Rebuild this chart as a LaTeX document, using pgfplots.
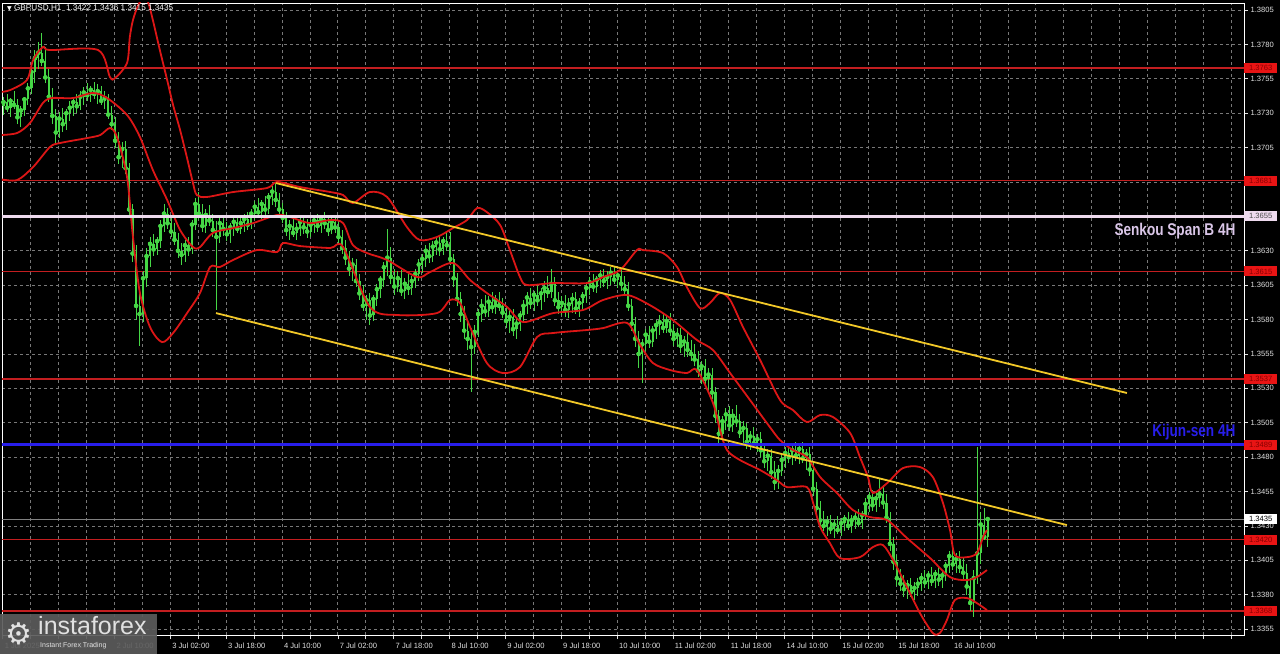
\documentclass[border=0pt]{standalone}
\usepackage{fontspec}
\setmainfont{Liberation Sans}
\newfontfamily\dejavu{DejaVu Sans}
\usepackage{graphicx}
\usepackage{pgfplots}
\usepackage{pgfplotstable}
\pgfplotsset{compat=1.18}

\definecolor{candle}{RGB}{70,215,70}
\definecolor{band}{RGB}{220,22,22}
\definecolor{level}{RGB}{195,30,32}
\definecolor{chan}{RGB}{242,200,40}
\definecolor{kijun}{RGB}{40,30,235}
\definecolor{senkou}{RGB}{238,218,238}
\definecolor{gridc}{RGB}{120,120,120}
\definecolor{boxred}{RGB}{232,20,20}
\definecolor{boxtext}{RGB}{135,0,0}
\definecolor{senkoutext}{RGB}{218,198,232}
\definecolor{lbl}{RGB}{225,225,225}

\newcommand\tk{\fontsize{7.6}{9}\selectfont}

% hourly GBPUSD bars: index, open, high, low, close
\pgfplotstableread{
i o h l c
0 1.3732 1.3738 1.3724 1.3735
1 1.3735 1.3742 1.3729 1.3738
2 1.3738 1.3744 1.3731 1.3734
3 1.3734 1.3741 1.3727 1.3739
4 1.3739 1.3746 1.3733 1.3736
5 1.3736 1.3740 1.3722 1.3727
6 1.3727 1.3735 1.3720 1.3732
7 1.3732 1.3742 1.3728 1.3740
8 1.3740 1.3752 1.3736 1.3748
9 1.3748 1.3765 1.3744 1.3760
10 1.3760 1.3776 1.3752 1.3770
11 1.3770 1.3782 1.3762 1.3774
12 1.3774 1.3788 1.3764 1.3768
13 1.3768 1.3778 1.3752 1.3756
14 1.3756 1.3762 1.3738 1.3742
15 1.3742 1.3748 1.3722 1.3728
16 1.3728 1.3733 1.3708 1.3716
17 1.3716 1.3731 1.3712 1.3726
18 1.3726 1.3734 1.3716 1.3722
19 1.3722 1.3733 1.3718 1.3730
20 1.3730 1.3739 1.3724 1.3734
21 1.3734 1.3742 1.3728 1.3738
22 1.3738 1.3744 1.3730 1.3735
23 1.3735 1.3746 1.3732 1.3742
24 1.3742 1.3749 1.3736 1.3745
25 1.3745 1.3752 1.3739 1.3743
26 1.3743 1.3750 1.3738 1.3747
27 1.3747 1.3753 1.3740 1.3744
28 1.3744 1.3751 1.3737 1.3746
29 1.3746 1.3750 1.3736 1.3739
30 1.3739 1.3746 1.3733 1.3741
31 1.3741 1.3744 1.3726 1.3729
32 1.3729 1.3735 1.3718 1.3722
33 1.3722 1.3727 1.3705 1.3710
34 1.3710 1.3716 1.3693 1.3698
35 1.3698 1.3709 1.3690 1.3704
36 1.3704 1.3710 1.3686 1.3690
37 1.3690 1.3694 1.3655 1.3660
38 1.3660 1.3664 1.3622 1.3628
39 1.3628 1.3634 1.3580 1.3590
40 1.3590 1.3602 1.3561 1.3584
41 1.3584 1.3615 1.3578 1.3610
42 1.3610 1.3632 1.3604 1.3626
43 1.3626 1.3640 1.3618 1.3635
44 1.3635 1.3642 1.3626 1.3631
45 1.3631 1.3640 1.3627 1.3637
46 1.3637 1.3652 1.3632 1.3648
47 1.3648 1.3664 1.3644 1.3657
48 1.3657 1.3661 1.3646 1.3650
49 1.3650 1.3656 1.3640 1.3644
50 1.3644 1.3650 1.3634 1.3638
51 1.3638 1.3643 1.3625 1.3630
52 1.3630 1.3636 1.3620 1.3627
53 1.3627 1.3638 1.3622 1.3634
54 1.3634 1.3640 1.3626 1.3631
55 1.3631 1.3652 1.3628 1.3649
56 1.3649 1.3668 1.3645 1.3664
57 1.3664 1.3673 1.3652 1.3657
58 1.3657 1.3664 1.3644 1.3648
59 1.3648 1.3660 1.3643 1.3656
60 1.3656 1.3663 1.3648 1.3652
61 1.3652 1.3657 1.3640 1.3645
62 1.3645 1.3652 1.3587 1.3640
63 1.3640 1.3655 1.3636 1.3650
64 1.3650 1.3656 1.3641 1.3646
65 1.3646 1.3651 1.3637 1.3642
66 1.3642 1.3650 1.3636 1.3647
67 1.3647 1.3655 1.3641 1.3651
68 1.3651 1.3656 1.3643 1.3646
69 1.3646 1.3654 1.3642 1.3650
70 1.3650 1.3657 1.3644 1.3653
71 1.3653 1.3658 1.3645 1.3649
72 1.3649 1.3660 1.3646 1.3657
73 1.3657 1.3666 1.3652 1.3662
74 1.3662 1.3668 1.3654 1.3658
75 1.3658 1.3667 1.3653 1.3664
76 1.3664 1.3670 1.3656 1.3660
77 1.3660 1.3672 1.3657 1.3669
78 1.3669 1.3677 1.3663 1.3673
79 1.3673 1.3680 1.3662 1.3667
80 1.3667 1.3672 1.3654 1.3660
81 1.3660 1.3665 1.3650 1.3654
82 1.3654 1.3658 1.3641 1.3645
83 1.3645 1.3652 1.3638 1.3648
84 1.3648 1.3654 1.3640 1.3643
85 1.3643 1.3650 1.3638 1.3646
86 1.3646 1.3654 1.3641 1.3651
87 1.3651 1.3656 1.3642 1.3647
88 1.3647 1.3653 1.3639 1.3644
89 1.3644 1.3652 1.3640 1.3649
90 1.3649 1.3655 1.3643 1.3652
91 1.3652 1.3657 1.3644 1.3648
92 1.3648 1.3656 1.3643 1.3653
93 1.3653 1.3658 1.3646 1.3650
94 1.3650 1.3655 1.3641 1.3645
95 1.3645 1.3654 1.3642 1.3651
96 1.3651 1.3656 1.3643 1.3647
97 1.3647 1.3652 1.3636 1.3640
98 1.3640 1.3645 1.3628 1.3632
99 1.3632 1.3638 1.3620 1.3625
100 1.3625 1.3630 1.3612 1.3617
101 1.3617 1.3625 1.3608 1.3620
102 1.3620 1.3624 1.3604 1.3608
103 1.3608 1.3613 1.3594 1.3599
104 1.3599 1.3605 1.3586 1.3590
105 1.3590 1.3598 1.3580 1.3594
106 1.3594 1.3599 1.3576 1.3583
107 1.3583 1.3598 1.3579 1.3595
108 1.3595 1.3606 1.3590 1.3602
109 1.3602 1.3612 1.3596 1.3609
110 1.3609 1.3622 1.3604 1.3618
111 1.3618 1.3646 1.3612 1.3625
112 1.3625 1.3633 1.3606 1.3611
113 1.3611 1.3617 1.3598 1.3604
114 1.3604 1.3615 1.3600 1.3610
115 1.3610 1.3616 1.3597 1.3601
116 1.3601 1.3610 1.3595 1.3606
117 1.3606 1.3613 1.3598 1.3603
118 1.3603 1.3612 1.3598 1.3608
119 1.3608 1.3617 1.3603 1.3613
120 1.3613 1.3624 1.3608 1.3620
121 1.3620 1.3628 1.3614 1.3624
122 1.3624 1.3634 1.3618 1.3630
123 1.3630 1.3636 1.3621 1.3626
124 1.3626 1.3637 1.3622 1.3633
125 1.3633 1.3640 1.3627 1.3636
126 1.3636 1.3641 1.3626 1.3631
127 1.3631 1.3640 1.3627 1.3637
128 1.3637 1.3643 1.3630 1.3634
129 1.3634 1.3644 1.3620 1.3624
130 1.3624 1.3628 1.3604 1.3610
131 1.3610 1.3614 1.3590 1.3595
132 1.3595 1.3600 1.3578 1.3584
133 1.3584 1.3590 1.3566 1.3572
134 1.3572 1.3580 1.3558 1.3566
135 1.3566 1.3574 1.3527 1.3560
136 1.3560 1.3576 1.3555 1.3571
137 1.3571 1.3588 1.3567 1.3584
138 1.3584 1.3595 1.3578 1.3590
139 1.3590 1.3598 1.3582 1.3586
140 1.3586 1.3597 1.3582 1.3593
141 1.3593 1.3600 1.3585 1.3589
142 1.3589 1.3598 1.3584 1.3594
143 1.3594 1.3600 1.3586 1.3590
144 1.3590 1.3596 1.3581 1.3585
145 1.3585 1.3590 1.3574 1.3579
146 1.3579 1.3587 1.3570 1.3582
147 1.3582 1.3588 1.3568 1.3573
148 1.3573 1.3581 1.3566 1.3577
149 1.3577 1.3586 1.3572 1.3583
150 1.3583 1.3594 1.3578 1.3590
151 1.3590 1.3600 1.3584 1.3596
152 1.3596 1.3603 1.3588 1.3592
153 1.3592 1.3601 1.3586 1.3598
154 1.3598 1.3606 1.3590 1.3594
155 1.3594 1.3603 1.3587 1.3599
156 1.3599 1.3608 1.3593 1.3603
157 1.3603 1.3612 1.3596 1.3600
158 1.3600 1.3617 1.3596 1.3606
159 1.3606 1.3611 1.3590 1.3594
160 1.3594 1.3600 1.3584 1.3589
161 1.3589 1.3597 1.3583 1.3592
162 1.3592 1.3598 1.3582 1.3587
163 1.3587 1.3596 1.3581 1.3591
164 1.3591 1.3599 1.3585 1.3595
165 1.3595 1.3600 1.3584 1.3588
166 1.3588 1.3596 1.3582 1.3592
167 1.3592 1.3600 1.3588 1.3597
168 1.3597 1.3606 1.3592 1.3603
169 1.3603 1.3611 1.3598 1.3607
170 1.3607 1.3613 1.3600 1.3604
171 1.3604 1.3612 1.3599 1.3609
172 1.3609 1.3616 1.3603 1.3612
173 1.3612 1.3617 1.3604 1.3608
174 1.3608 1.3615 1.3602 1.3611
175 1.3611 1.3618 1.3605 1.3614
176 1.3614 1.3619 1.3606 1.3609
177 1.3609 1.3616 1.3603 1.3612
178 1.3612 1.3617 1.3601 1.3606
179 1.3606 1.3612 1.3598 1.3602
180 1.3602 1.3607 1.3586 1.3590
181 1.3590 1.3595 1.3572 1.3577
182 1.3577 1.3582 1.3560 1.3566
183 1.3566 1.3572 1.3545 1.3555
184 1.3555 1.3566 1.3534 1.3562
185 1.3562 1.3573 1.3557 1.3569
186 1.3569 1.3575 1.3559 1.3564
187 1.3564 1.3575 1.3560 1.3572
188 1.3572 1.3580 1.3566 1.3576
189 1.3576 1.3583 1.3569 1.3578
190 1.3578 1.3584 1.3570 1.3574
191 1.3574 1.3583 1.3570 1.3579
192 1.3579 1.3585 1.3568 1.3572
193 1.3572 1.3577 1.3561 1.3566
194 1.3566 1.3574 1.3560 1.3569
195 1.3569 1.3574 1.3556 1.3561
196 1.3561 1.3568 1.3553 1.3564
197 1.3564 1.3570 1.3553 1.3558
198 1.3558 1.3565 1.3550 1.3555
199 1.3555 1.3562 1.3546 1.3551
200 1.3551 1.3557 1.3538 1.3543
201 1.3543 1.3550 1.3533 1.3546
202 1.3546 1.3551 1.3532 1.3537
203 1.3537 1.3545 1.3528 1.3540
204 1.3540 1.3545 1.3522 1.3527
205 1.3527 1.3531 1.3505 1.3510
206 1.3510 1.3514 1.3490 1.3497
207 1.3497 1.3510 1.3493 1.3506
208 1.3506 1.3516 1.3500 1.3511
209 1.3511 1.3517 1.3499 1.3503
210 1.3503 1.3515 1.3498 1.3510
211 1.3510 1.3518 1.3502 1.3506
212 1.3506 1.3511 1.3494 1.3498
213 1.3498 1.3506 1.3490 1.3501
214 1.3501 1.3505 1.3486 1.3491
215 1.3491 1.3499 1.3485 1.3495
216 1.3495 1.3502 1.3487 1.3490
217 1.3490 1.3497 1.3484 1.3493
218 1.3493 1.3498 1.3480 1.3485
219 1.3485 1.3490 1.3472 1.3477
220 1.3477 1.3486 1.3470 1.3481
221 1.3481 1.3486 1.3464 1.3469
222 1.3469 1.3477 1.3456 1.3462
223 1.3462 1.3474 1.3457 1.3470
224 1.3470 1.3482 1.3466 1.3478
225 1.3478 1.3487 1.3472 1.3483
226 1.3483 1.3490 1.3476 1.3480
227 1.3480 1.3488 1.3474 1.3485
228 1.3485 1.3491 1.3477 1.3481
229 1.3481 1.3489 1.3475 1.3486
230 1.3486 1.3491 1.3476 1.3479
231 1.3479 1.3486 1.3471 1.3482
232 1.3482 1.3487 1.3466 1.3471
233 1.3471 1.3476 1.3452 1.3457
234 1.3457 1.3462 1.3438 1.3443
235 1.3443 1.3448 1.3428 1.3434
236 1.3434 1.3441 1.3426 1.3430
237 1.3430 1.3437 1.3423 1.3433
238 1.3433 1.3438 1.3424 1.3428
239 1.3428 1.3435 1.3421 1.3431
240 1.3431 1.3437 1.3424 1.3427
241 1.3427 1.3436 1.3423 1.3432
242 1.3432 1.3438 1.3426 1.3435
243 1.3435 1.3440 1.3427 1.3430
244 1.3430 1.3438 1.3425 1.3434
245 1.3434 1.3440 1.3428 1.3436
246 1.3436 1.3442 1.3429 1.3432
247 1.3432 1.3441 1.3428 1.3438
248 1.3438 1.3450 1.3434 1.3446
249 1.3446 1.3455 1.3440 1.3451
250 1.3451 1.3456 1.3441 1.3445
251 1.3445 1.3454 1.3440 1.3450
252 1.3450 1.3465 1.3444 1.3453
253 1.3453 1.3460 1.3442 1.3447
254 1.3447 1.3453 1.3432 1.3436
255 1.3436 1.3440 1.3412 1.3417
256 1.3417 1.3422 1.3398 1.3404
257 1.3404 1.3409 1.3386 1.3392
258 1.3392 1.3399 1.3383 1.3388
259 1.3388 1.3394 1.3378 1.3384
260 1.3384 1.3391 1.3377 1.3387
261 1.3387 1.3392 1.3378 1.3382
262 1.3382 1.3389 1.3376 1.3385
263 1.3385 1.3392 1.3379 1.3388
264 1.3388 1.3396 1.3383 1.3392
265 1.3392 1.3398 1.3385 1.3389
266 1.3389 1.3397 1.3384 1.3394
267 1.3394 1.3400 1.3386 1.3390
268 1.3390 1.3398 1.3385 1.3395
269 1.3395 1.3401 1.3386 1.3391
270 1.3391 1.3398 1.3385 1.3394
271 1.3394 1.3404 1.3390 1.3401
272 1.3401 1.3412 1.3396 1.3408
273 1.3408 1.3413 1.3398 1.3402
274 1.3402 1.3410 1.3396 1.3406
275 1.3406 1.3412 1.3396 1.3400
276 1.3400 1.3407 1.3391 1.3396
277 1.3396 1.3402 1.3380 1.3386
278 1.3386 1.3392 1.3368 1.3374
279 1.3374 1.3398 1.3364 1.3392
280 1.3392 1.3487 1.3388 1.3410
281 1.3410 1.3440 1.3402 1.3431
282 1.3431 1.3443 1.3420 1.3422
283 1.3422 1.3436 1.3415 1.3435
}\bars

% Bollinger bands
\pgfplotstableread{
i p
0 1.37454
2.9 1.37468
7.7 1.37541
9.5 1.37687
12.3 1.37781
14.3 1.37759
28.1 1.37759
31.5 1.37563
33.0 1.37556
36.4 1.37665
37.2 1.37854
38.1 1.37977
39.5 1.38079
41.0 1.38137
42.4 1.38108
43.8 1.37977
45.8 1.37759
47.9 1.37541
49.6 1.37359
51.6 1.37178
53.6 1.36974
55.3 1.36792
56.4 1.36705
59.3 1.36691
66.8 1.36727
76.5 1.36756
79.4 1.36800
86.0 1.36763
94.6 1.36727
98.3 1.36705
101.1 1.36647
106.0 1.36727
110.9 1.36691
116.6 1.36472
120.3 1.36378
125.2 1.36400
129.8 1.36465
133.8 1.36523
136.7 1.36610
139.5 1.36581
143.3 1.36487
146.1 1.36305
149.0 1.36109
151.0 1.36051
158.5 1.36065
168.2 1.36065
172.8 1.36109
177.7 1.36160
182.5 1.36305
184.2 1.36305
190.0 1.36283
194.0 1.36182
196.8 1.36036
200.6 1.35883
203.4 1.35920
206.3 1.35993
209.2 1.35942
212.9 1.35745
217.8 1.35506
223.5 1.35215
227.2 1.35142
231.2 1.35055
235.0 1.35106
238.7 1.35091
243.6 1.34975
246.4 1.34800
248.7 1.34655
250.1 1.34539
254.2 1.34611
258.7 1.34720
263.6 1.34728
267.3 1.34655
270.2 1.34466
272.2 1.34270
273.6 1.34088
277.1 1.34073
279.9 1.34102
281.7 1.34219
282.8 1.34270
}\bbup

\pgfplotstableread{
i p
0 1.37141
4.9 1.37156
8.6 1.37229
12.3 1.37374
14.9 1.37410
20.9 1.37410
26.6 1.37447
30.7 1.37410
36.4 1.37287
40.1 1.37127
43.8 1.36887
47.9 1.36669
51.6 1.36451
55.3 1.36327
57.3 1.36327
61.0 1.36429
66.8 1.36465
72.5 1.36501
79.4 1.36560
83.1 1.36545
88.8 1.36501
94.6 1.36523
98.3 1.36501
101.1 1.36342
105.2 1.36283
110.9 1.36233
119.5 1.36109
123.2 1.36145
129.8 1.36211
134.7 1.36087
139.5 1.35993
145.3 1.35891
149.9 1.35782
158.5 1.35847
167.0 1.35869
172.8 1.35942
179.7 1.35978
186.2 1.35905
192.8 1.35796
199.7 1.35651
204.3 1.35578
209.2 1.35411
214.9 1.35215
220.6 1.35018
223.5 1.34924
227.2 1.34851
231.2 1.34800
235.0 1.34655
239.8 1.34539
244.4 1.34415
249.3 1.34364
254.2 1.34342
259.9 1.34211
266.5 1.34066
272.2 1.33928
277.1 1.33906
279.9 1.33928
282.8 1.33979
}\bbmid

\pgfplotstableread{
i p
0 1.36821
4.9 1.36814
9.5 1.36909
14.3 1.37054
17.2 1.37083
24.9 1.37119
28.7 1.37141
31.5 1.37192
33.5 1.37127
36.4 1.36836
38.1 1.36400
40.1 1.35993
43.0 1.35745
46.4 1.35636
49.6 1.35702
53.6 1.35847
57.3 1.35993
60.2 1.36182
63.0 1.36182
66.8 1.36233
73.6 1.36305
79.4 1.36291
81.1 1.36356
86.0 1.36334
94.6 1.36320
98.3 1.36327
106.0 1.35891
113.8 1.35833
125.2 1.35847
128.9 1.35942
131.8 1.35920
134.7 1.35745
139.5 1.35484
144.1 1.35411
149.0 1.35455
153.9 1.35673
158.5 1.35702
168.2 1.35724
172.8 1.35738
179.7 1.35775
183.4 1.35615
187.1 1.35484
192.0 1.35433
196.8 1.35411
199.7 1.35433
204.3 1.35193
206.3 1.34997
208.3 1.34851
212.0 1.34779
217.8 1.34706
222.6 1.34633
225.5 1.34582
231.2 1.34582
233.0 1.34466
235.0 1.34292
237.8 1.34175
240.7 1.34066
246.4 1.34073
250.1 1.34146
253.0 1.34161
255.9 1.34052
259.9 1.33855
263.6 1.33666
267.3 1.33521
269.3 1.33521
271.3 1.33615
273.6 1.33761
277.1 1.33775
279.9 1.33739
282.8 1.33688
}\bblow

\begin{document}
\begin{tikzpicture}
% picture frame: 1280 x 654, axis box from (2,3) to (1244,635) in pixels
\fill[black, use as bounding box] (-2pt,-19pt) rectangle (1278pt,635pt);

\begin{axis}[
    at={(0pt,0pt)}, anchor=south west,
    width=1242pt, height=632pt, scale only axis,
    xmin=0.573, xmax=356.45,
    ymin=1.33507, ymax=1.38101,
    clip mode=individual,
    axis line style={white, line width=0.8pt},
    tick align=outside, major tick length=4pt,
    tick style={lbl, line width=0.6pt},
    xtick pos=left, ytick pos=right, yticklabel pos=right,
    xtick={0.8,8.8,16.8,24.8,32.8,40.8,48.8,56.8,64.8,72.8,80.8,88.8,96.8,104.8,112.8,120.8,128.8,136.8,144.8,152.8,160.8,168.8,176.8,184.8,192.8,200.8,208.8,216.8,224.8,232.8,240.8,248.8,256.8,264.8,272.8,280.8,288.8,296.8,304.8,312.8,320.8,328.8,336.8,344.8,352.8},
    xticklabels={1 Jul 2025,,1 Jul 18:00,,2 Jul 10:00,,3 Jul 02:00,,3 Jul 18:00,,4 Jul 10:00,,7 Jul 02:00,,7 Jul 18:00,,8 Jul 10:00,,9 Jul 02:00,,9 Jul 18:00,,10 Jul 10:00,,11 Jul 02:00,,11 Jul 18:00,,14 Jul 10:00,,15 Jul 02:00,,15 Jul 18:00,,16 Jul 10:00,,,,,,,,,,},
    ytick={1.3355,1.3380,1.3405,1.3430,1.3455,1.3480,1.3505,1.3530,1.3555,1.3580,1.3605,1.3630,1.3655,1.3680,1.3705,1.3730,1.3755,1.3780,1.3805},
    yticklabels={1.3355,1.3380,1.3405,1.3430,1.3455,1.3480,1.3505,1.3530,1.3555,1.3580,1.3605,1.3630,1.3655,1.3680,1.3705,1.3730,1.3755,1.3780,1.3805},
    xticklabel style={anchor=north west, xshift=-1.5pt, font=\tk, text=lbl},
    yticklabel style={anchor=west, xshift=-1pt, font=\tk, text=lbl},
    grid=major,
    major grid style={gridc, dash pattern=on 3pt off 3pt, line width=0.7pt},
]
% support / resistance levels
\addplot[level, line width=1.6pt] coordinates {(0.573,1.3763) (356.45,1.3763)};
\addplot[level, line width=1.6pt] coordinates {(0.573,1.3681) (356.45,1.3681)};
\addplot[level, line width=1.6pt] coordinates {(0.573,1.3615) (356.45,1.3615)};
\addplot[level, line width=1.6pt] coordinates {(0.573,1.3537) (356.45,1.3537)};
\addplot[level, line width=1.6pt] coordinates {(0.573,1.3420) (356.45,1.3420)};
\addplot[level, line width=1.6pt] coordinates {(0.573,1.3368) (356.45,1.3368)};
\addplot[gray, line width=0.8pt] coordinates {(0.573,1.3435) (356.45,1.3435)};

% candles: wicks, then bodies
\addplot[only marks, mark=none, candle,
    error bars/.cd, y dir=both, y explicit, error mark=none,
    error bar style={candle, line width=0.9pt}]
    table[x=i, y=c, y error plus expr=\thisrow{h}-\thisrow{c},
          y error minus expr=\thisrow{c}-\thisrow{l}] {\bars};
\addplot[only marks, mark=none, candle,
    error bars/.cd, y dir=both, y explicit, error mark=none,
    error bar style={candle, line width=2.2pt}]
    table[x=i, y=c, y error plus expr={max(\thisrow{o},\thisrow{c})-\thisrow{c}},
          y error minus expr={\thisrow{c}-min(\thisrow{o},\thisrow{c})}] {\bars};

% Bollinger bands
\addplot[band, line width=1.8pt, smooth] table[x=i, y=p] {\bbup};
\addplot[band, line width=1.8pt, smooth] table[x=i, y=p] {\bbmid};
\addplot[band, line width=1.8pt, smooth] table[x=i, y=p] {\bblow};

% Ichimoku lines
\addplot[senkou, line width=3pt] coordinates {(0.573,1.3655) (356.45,1.3655)};
\addplot[kijun, line width=3pt] coordinates {(0.573,1.3489) (356.45,1.3489)};

% descending channel
\addplot[chan, line width=1.8pt] coordinates {(79.1,1.36792) (322.9,1.35266)};
\addplot[chan, line width=1.8pt] coordinates {(61.9,1.35847) (305.7,1.34306)};

\node[anchor=east, text=senkoutext, font=\bfseries\fontsize{13.6}{15}\selectfont]
    at (axis cs:355,1.3644) {\scalebox{1}[1.25]{Senkou Span B 4H}};
\node[anchor=east, text=kijun, font=\bfseries\fontsize{13.6}{15}\selectfont]
    at (axis cs:355,1.34985) {\scalebox{1}[1.25]{Kijun-sen 4H}};

\coordinate (b1) at (axis cs:356.45,1.3763);
\coordinate (b2) at (axis cs:356.45,1.3681);
\coordinate (b3) at (axis cs:356.45,1.3655);
\coordinate (b4) at (axis cs:356.45,1.3615);
\coordinate (b5) at (axis cs:356.45,1.3537);
\coordinate (b6) at (axis cs:356.45,1.3489);
\coordinate (b7) at (axis cs:356.45,1.3435);
\coordinate (b8) at (axis cs:356.45,1.3420);
\coordinate (b9) at (axis cs:356.45,1.3368);
\end{axis}

% price boxes on the right scale
\tikzset{pbox/.style={anchor=west, inner sep=0.5pt, minimum width=33pt,
    minimum height=10pt, font=\tk}}
\node[pbox, fill=boxred, text=boxtext] at (b1) {1.3763};
\node[pbox, fill=boxred, text=boxtext] at (b2) {1.3681};
\node[pbox, fill=senkou, text=black!70] at (b3) {1.3655};
\node[pbox, fill=boxred, text=boxtext] at (b4) {1.3615};
\node[pbox, fill=boxred, text=boxtext] at (b5) {1.3537};
\node[pbox, fill=boxred, text=boxtext] at (b6) {1.3489};
\node[pbox, fill=boxred, text=boxtext] at (b8) {1.3420};
\node[pbox, fill=boxred, text=boxtext] at (b9) {1.3368};
\node[pbox, fill=white, text=black] at (b7) {1.3435};

% title
\node[anchor=west, text=white, font=\fontsize{8.2}{9}\selectfont, inner sep=0pt] at (5pt,627pt)
    {{\dejavu\fontsize{6}{7}\selectfont ▼}\ GBPUSD,H1\ \ 1.3422 1.3436 1.3415 1.3435};

% watermark
\fill[fill={rgb,255:red,92;green,92;blue,92}, opacity=0.92] (-2pt,-19pt) rectangle (155pt,21pt);
\node[anchor=center, text=lbl, font=\dejavu\fontsize{30}{30}\selectfont, inner sep=0pt] at (17pt,1pt) {⚙};
\node[anchor=base west, text=lbl, font=\fontsize{25}{26}\selectfont, inner sep=0pt] at (36pt,1pt) {instaforex};
\node[anchor=west, text=lbl, font=\fontsize{7}{8}\selectfont, inner sep=0pt] at (38pt,-11pt) {Instant Forex Trading};
\end{tikzpicture}
\end{document}
